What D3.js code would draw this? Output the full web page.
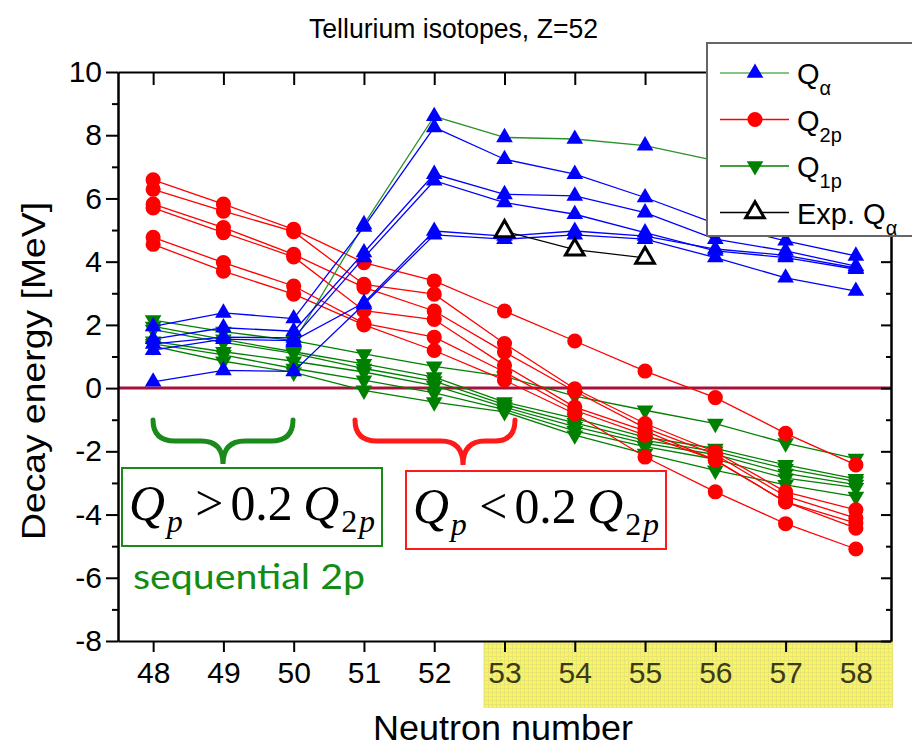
<!DOCTYPE html>
<html>
<head>
<meta charset="utf-8">
<script src="https://cdn.jsdelivr.net/npm/d3@7"></script>
<style>
  body { margin: 0; background: #fff; }
  svg { display: block; font-family: "Liberation Sans", Arial, sans-serif; }
</style>
</head>
<body>
<svg id="chart" width="912" height="748"></svg>
<script>
// neutron numbers on the x axis
const neutrons = [48, 49, 50, 51, 52, 53, 54, 55, 56, 57, 58];

// Q_alpha, one array per model (first one is drawn with a green line)
const qAlpha = [
  [null, null, 1.45, 5.18, 8.60, 7.93, 7.88, 7.67, 7.20, null, null],
  [1.95, 2.38, 2.20, 5.10, 8.25, 7.24, 6.77, 6.03, 5.20, 4.66, 4.18],
  [1.55, 1.91, 1.80, 4.29, 6.77, 6.13, 6.08, 5.55, 4.71, 4.34, 3.86],
  [1.40, 1.61, 1.59, 4.13, 6.56, 5.87, 5.50, 4.92, 4.34, 4.13, 3.76],
  [1.20, 1.55, 1.50, 2.70, 4.97, 4.81, 4.97, 4.81, 4.40, 4.20, 3.80],
  [0.20, 0.56, 0.53, 2.65, 4.85, 4.71, 4.85, 4.71, 4.13, 3.49, 3.07]
];

// Q_2p
const q2p = [
  [6.59, 5.82, 5.02, 3.97, 3.39, 2.44, 1.49, 0.54, -0.30, -1.43, -2.43],
  [6.29, 5.60, 4.95, 3.28, 2.97, 1.41, -0.02, -1.12, -2.02, -3.28, -3.85],
  [5.82, 5.08, 4.23, 3.19, 2.44, 1.14, -0.10, -1.26, -2.10, -3.42, -4.11],
  [5.70, 4.92, 4.15, 2.45, 2.17, 0.72, -0.60, -1.35, -2.28, -3.60, -4.27],
  [4.77, 3.97, 3.23, 2.05, 1.61, 0.51, -0.70, -1.49, -2.28, -3.60, -4.43],
  [4.55, 3.70, 2.97, 2.00, 1.19, 0.25, -0.81, -2.18, -3.28, -4.29, -5.09]
];

// Q_1p
const q1p = [
  [2.15, 1.79, 1.50, 1.08, 0.69, 0.37, -0.25, -0.70, -1.12, -1.74, -2.23],
  [1.95, 1.54, 1.15, 0.77, 0.35, -0.44, -0.96, -1.55, -1.91, -2.43, -2.87],
  [1.85, 1.45, 1.10, 0.62, 0.22, -0.52, -1.10, -1.65, -2.00, -2.55, -2.95],
  [1.48, 1.15, 0.85, 0.51, 0.08, -0.60, -1.22, -1.75, -2.10, -2.70, -3.05],
  [1.40, 1.05, 0.62, 0.25, -0.15, -0.68, -1.35, -1.85, -2.25, -2.85, -3.15],
  [1.33, 0.85, 0.50, -0.07, -0.44, -0.75, -1.49, -2.07, -2.60, -3.06, -3.43]
];

// experimental Q_alpha
const expAlpha = [null, null, null, null, null, 4.96, 4.38, 4.12, null, null, null];

const yMajor = [-8, -6, -4, -2, 0, 2, 4, 6, 8, 10];
const yMinor = [-7, -5, -3, -1, 1, 3, 5, 7, 9];

const svg = d3.select("#chart");
const plotLeft = 118, plotRight = 891, plotTop = 72, plotBottom = 641;

const x = d3.scaleLinear().domain([47.5, 58.5]).range([plotLeft, plotRight]);
const y = d3.scaleLinear().domain([-8, 10]).range([plotBottom, plotTop]);

svg.append("rect").attr("width", 912).attr("height", 748).attr("fill", "#fff");

// yellow highlight under N = 53..58
const defs = svg.append("defs");
const pat = defs.append("pattern").attr("id", "yel").attr("width", 4).attr("height", 4)
  .attr("patternUnits", "userSpaceOnUse");
pat.append("rect").attr("width", 4).attr("height", 4).attr("fill", "#f9f55c");
pat.append("path").attr("d", "M0,0.5H4M0.5,0V4").attr("stroke", "#e9e574").attr("stroke-width", 1);
svg.append("rect")
  .attr("x", x(52.7)).attr("y", plotBottom)
  .attr("width", 893 - x(52.7)).attr("height", 67)
  .attr("fill", "url(#yel)");

// title
svg.append("text").attr("x", 309).attr("y", 38)
  .attr("font-size", 28).attr("textLength", 289).attr("lengthAdjust", "spacingAndGlyphs")
  .text("Tellurium isotopes, Z=52");

// zero line
svg.append("line").attr("x1", plotLeft).attr("x2", plotRight).attr("y1", y(0)).attr("y2", y(0))
  .attr("stroke", "#a3123a").attr("stroke-width", 3);

const line = d3.line()
  .defined(d => d[1] != null)
  .x(d => x(d[0])).y(d => y(d[1]));

const pairs = vals => neutrons.map((n, i) => [n, vals[i]]);
const triUp = d3.symbol(d3.symbolTriangle, 120);
const circ = d3.symbol(d3.symbolCircle, 180);

function drawGroup(seriesList, lineColor, markerFill, symbolPath, rotate) {
  const g = svg.append("g");
  seriesList.forEach((vals, k) => {
    g.append("path").datum(pairs(vals))
      .attr("d", line)
      .attr("fill", "none")
      .attr("stroke", typeof lineColor === "function" ? lineColor(k) : lineColor)
      .attr("stroke-width", 1.3);
  });
  seriesList.forEach(vals => {
    g.selectAll(null).data(pairs(vals).filter(d => d[1] != null))
      .join("path")
      .attr("d", symbolPath)
      .attr("transform", d => `translate(${x(d[0])},${y(d[1])})${rotate ? " rotate(180)" : ""}`)
      .attr("fill", markerFill);
  });
}

drawGroup(q1p, "#008000", "#008000", triUp, true);
drawGroup(q2p, "#ff0000", "#ff0000", circ, false);
drawGroup(qAlpha, k => k === 0 ? "#2a922a" : "#0000ff", "#0000ff", triUp, false);

// experimental values
const gExp = svg.append("g");
gExp.append("path").datum(pairs(expAlpha)).attr("d", line)
  .attr("fill", "none").attr("stroke", "#000").attr("stroke-width", 1.2);
gExp.selectAll(null).data(pairs(expAlpha).filter(d => d[1] != null))
  .join("path")
  .attr("d", d3.symbol(d3.symbolTriangle, 150))
  .attr("transform", d => `translate(${x(d[0])},${y(d[1])})`)
  .attr("fill", "#fff").attr("stroke", "#000").attr("stroke-width", 3);

// frame and axes
const axisStyle = g => {
  g.selectAll("path.domain").attr("stroke", "#000").attr("stroke-width", 2);
  g.selectAll(".tick line").attr("stroke", "#000").attr("stroke-width", 2);
  g.selectAll("text").attr("font-family", "Liberation Sans, Arial, sans-serif").attr("fill", "#000");
};

svg.append("g").attr("transform", `translate(0,${plotBottom})`)
  .call(d3.axisBottom(x).tickValues(neutrons).tickSize(11).tickSizeOuter(0).tickPadding(10))
  .call(axisStyle)
  .call(g => g.selectAll("text").attr("font-size", 30)
    .attr("fill", d => d >= 53 ? "#3c3c14" : "#000"));

svg.append("g").attr("transform", `translate(0,${plotTop})`)
  .call(d3.axisTop(x).tickValues(neutrons).tickSize(-13).tickSizeOuter(0).tickFormat(""))
  .call(axisStyle);

svg.append("g").attr("transform", `translate(${plotLeft},0)`)
  .call(d3.axisLeft(y).tickValues(yMajor).tickSize(12).tickSizeOuter(0).tickPadding(4)
    .tickFormat(d => String(d)))
  .call(axisStyle)
  .call(g => g.selectAll("text").attr("font-size", 30));

svg.append("g").attr("transform", `translate(${plotLeft},0)`)
  .call(d3.axisLeft(y).tickValues(yMinor).tickSize(6).tickSizeOuter(0).tickFormat(""))
  .call(axisStyle);

svg.append("g").attr("transform", `translate(${plotRight},0)`)
  .call(d3.axisRight(y).tickValues(yMajor).tickSize(-10).tickSizeOuter(0).tickFormat(""))
  .call(axisStyle);

svg.append("g").attr("transform", `translate(${plotRight},0)`)
  .call(d3.axisRight(y).tickValues(yMinor).tickSize(-5).tickSizeOuter(0).tickFormat(""))
  .call(axisStyle);

// axis titles
svg.append("text").attr("x", 373).attr("y", 740)
  .attr("font-size", 35).attr("textLength", 260).attr("lengthAdjust", "spacingAndGlyphs")
  .text("Neutron number");

svg.append("text")
  .attr("transform", `translate(45,540) rotate(-90)`)
  .attr("font-size", 34).attr("textLength", 338).attr("lengthAdjust", "spacingAndGlyphs")
  .text("Decay energy [MeV]");

// braces
svg.append("path")
  .attr("d", "M153,420 Q153,441 175,441 L201,441 Q223,441 223,464 Q223,441 245,441 L271,441 Q293,441 293,420")
  .attr("fill", "none").attr("stroke", "#1a8a1a").attr("stroke-width", 5).attr("stroke-linecap", "round");
svg.append("path")
  .attr("d", "M355,420 Q355,441 377,441 L441,441 Q463,441 463,465 Q463,441 485,441 L495,441 Q515,441 515,420")
  .attr("fill", "none").attr("stroke", "#ff1a1a").attr("stroke-width", 5).attr("stroke-linecap", "round");

// condition boxes
function condBox(x0, y0, w, h, color, sign) {
  svg.append("rect").attr("x", x0).attr("y", y0).attr("width", w).attr("height", h)
    .attr("fill", "#fff").attr("stroke", color).attr("stroke-width", 2);
  const g = svg.append("g");
  const t = g.append("text").attr("font-family", "Liberation Serif, Times New Roman, serif")
    .attr("font-size", 56).attr("fill", "#000");
  t.append("tspan").attr("font-style", "italic").text("Q");
  t.append("tspan").attr("font-style", "italic").attr("font-size", 36).attr("dy", 14).attr("dx", 2).text("p");
  t.append("tspan").attr("dy", -14).attr("dx", 14).text(sign);
  t.append("tspan").attr("dx", 8).text("0.2");
  t.append("tspan").attr("font-style", "italic").attr("dx", 12).text("Q");
  t.append("tspan").attr("font-size", 36).attr("dy", 14).attr("dx", 2).text("2");
  t.append("tspan").attr("font-style", "italic").attr("font-size", 36).attr("dx", 2).text("p");
  const bb = t.node().getBBox();
  const s = (w - 14) / bb.width;
  g.attr("transform", `translate(${x0 + 7 - bb.x * s},${y0 + h - 26}) scale(${s})`);
}
condBox(122, 468, 260, 78, "#1a8a1a", ">");
condBox(406, 471, 260, 78, "#ff1a1a", "<");

svg.append("text").attr("x", 133).attr("y", 589)
  .attr("font-family", "Lato, Open Sans, sans-serif")
  .attr("font-size", 35).attr("fill", "#128c12")
  .attr("textLength", 232).attr("lengthAdjust", "spacingAndGlyphs")
  .text("sequential 2p");

// legend
const legend = svg.append("g");
legend.append("rect").attr("x", 707).attr("y", 43).attr("width", 215).attr("height", 193)
  .attr("fill", "#fff").attr("stroke", "#666").attr("stroke-width", 2);

const legendItems = [
  { main: "Q", sub: "α", line: "#5fae5f", fill: "#0000ff", sym: triUp, rot: false, open: false },
  { main: "Q", sub: "2p", line: "#ff0000", fill: "#ff0000", sym: circ, rot: false, open: false },
  { main: "Q", sub: "1p", line: "#008000", fill: "#008000", sym: triUp, rot: true, open: false },
  { main: "Exp. Q", sub: "α", line: "#000", fill: "#fff", sym: d3.symbol(d3.symbolTriangle, 150), rot: false, open: true }
];
const legendY = [73, 119.5, 166, 212.5];
legendItems.forEach((it, i) => {
  const ly = legendY[i];
  legend.append("line").attr("x1", 720).attr("x2", 789).attr("y1", ly).attr("y2", ly)
    .attr("stroke", it.line).attr("stroke-width", 1.3);
  legend.append("path").attr("d", it.sym)
    .attr("transform", `translate(755,${ly})${it.rot ? " rotate(180)" : ""}`)
    .attr("fill", it.fill)
    .attr("stroke", it.open ? "#000" : "none").attr("stroke-width", 3);
  const t = legend.append("text").attr("x", 797).attr("y", ly + 11).attr("font-size", 29);
  t.append("tspan").text(it.main);
  t.append("tspan").attr("font-size", 20).attr("dy", 11).text(it.sub);
});
</script>
</body>
</html>
